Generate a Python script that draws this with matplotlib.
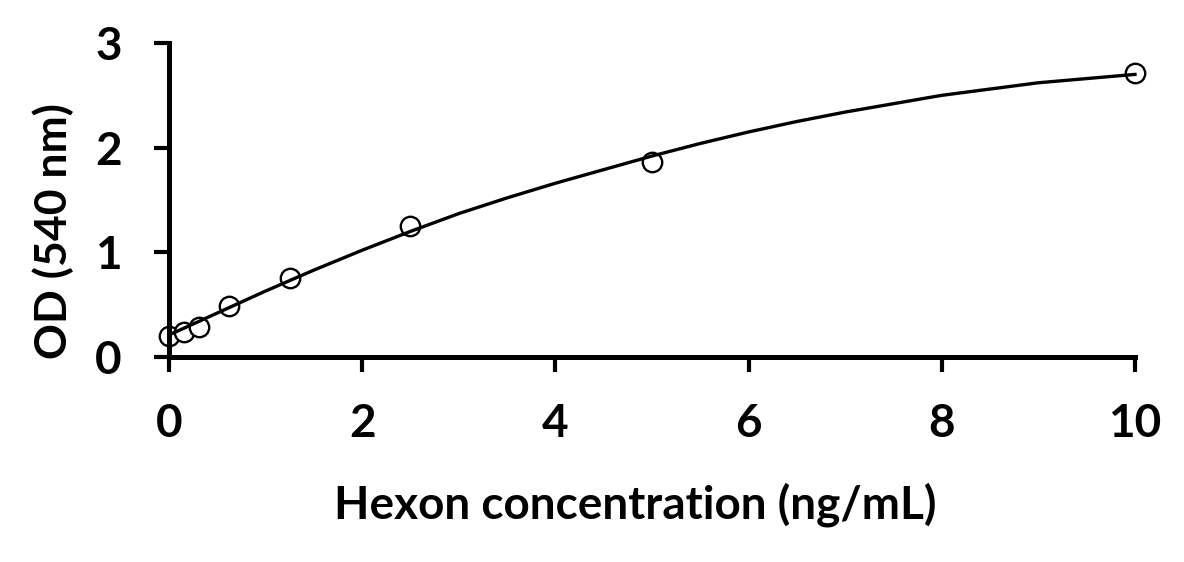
import matplotlib
matplotlib.use("Agg")
import matplotlib.pyplot as plt

# standards
conc = [0, 0.156, 0.3125, 0.625, 1.25, 2.5, 5, 10]
od = [0.20, 0.24, 0.29, 0.49, 0.75, 1.25, 1.86, 2.71]

# fitted curve
fit_x = [0, 0.5, 1, 1.5, 2, 2.5, 3, 3.5, 4, 4.5, 5, 5.5, 6, 6.5, 7, 7.5, 8, 8.5, 9, 9.5, 10]
fit_y = [0.21, 0.42, 0.63, 0.83, 1.02, 1.20, 1.37, 1.52, 1.66, 1.79, 1.92, 2.04, 2.15,
         2.25, 2.34, 2.42, 2.50, 2.56, 2.62, 2.66, 2.70]

xticks = [0, 2, 4, 6, 8, 10]
yticks = [0, 1, 2, 3]

plt.rcParams['font.family'] = ['Lato', 'DejaVu Sans']
plt.rcParams['font.weight'] = 'bold'

fig = plt.figure(figsize=(11.84, 5.62), dpi=100)
ax = fig.add_axes([0.1427, 0.3648, 0.8159, 0.5587])

ax.plot(conc, od, 'o', markersize=14, markerfacecolor='white', markeredgecolor='black',
        markeredgewidth=1.7, zorder=2, clip_on=False)
ax.plot(fit_x, fit_y, '-', color='black', linewidth=2.4, zorder=3, clip_on=False)

ax.set_xlim(0, 10)
ax.set_ylim(0, 3)
ax.set_xticks(xticks)
ax.set_yticks(yticks)
ax.set_xticklabels([str(t) for t in xticks])
ax.set_yticklabels([str(t) for t in yticks])

for s in ['top', 'right']:
    ax.spines[s].set_visible(False)
for s in ['left', 'bottom']:
    ax.spines[s].set_linewidth(3.6)

ax.tick_params(axis='both', direction='out', length=11, width=3, labelsize=33)
ax.tick_params(axis='x', pad=22)
ax.tick_params(axis='y', pad=23)

ax.set_xlabel("Hexon concentration (ng/mL)", fontsize=33, fontweight='bold')
ax.set_ylabel("OD (540 nm)", fontsize=32, fontweight='bold')
ax.xaxis.set_label_coords(0.4824, -0.398)
ax.yaxis.set_label_coords(-0.0983, 0.401)

fig.savefig("out.png", dpi=100)
